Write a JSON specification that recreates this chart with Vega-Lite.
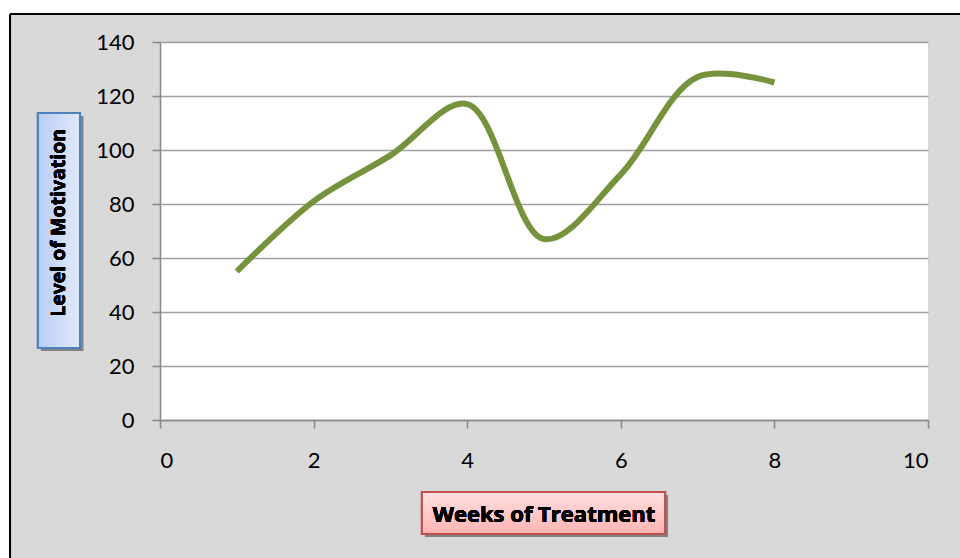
{
  "$schema": "https://vega.github.io/schema/vega-lite/v6.json",
  "autosize": {"type": "none"},
  "width": 768,
  "height": 378,
  "padding": {"left": 160, "top": 42, "right": 32, "bottom": 138},
  "background": "#d9d9d9",
  "config": {
    "view": {"stroke": null, "fill": "white"},
    "font": "Lato"
  },
  "data": {
    "values": [
      {"week": 1, "motivation": 55},
      {"week": 2, "motivation": 81},
      {"week": 3, "motivation": 98},
      {"week": 4, "motivation": 117},
      {"week": 5, "motivation": 67},
      {"week": 6, "motivation": 91},
      {"week": 7, "motivation": 127},
      {"week": 8, "motivation": 125}
    ]
  },
  "layer": [
    {
      "mark": {"type": "rect", "fill": "white", "stroke": null},
      "encoding": {
        "x": {"datum": -2.3, "type": "quantitative", "scale": {"domain": [0, 10], "nice": false}, "axis": {"values": [0, 2, 4, 6, 8, 10], "format": "d", "title": null, "grid": false, "domainColor": "#878787", "domainWidth": 1.5, "tickColor": "#878787", "tickWidth": 1.5, "tickSize": 8, "labelPadding": 22, "labelFontSize": 22, "labelColor": "black", "labelFont": "Lato"}},
        "x2": {"datum": -1.953},
        "y": {"datum": -60, "type": "quantitative", "scale": {"domain": [0, 140], "nice": false}, "axis": {"values": [0, 20, 40, 60, 80, 100, 120, 140], "format": "d", "title": null, "grid": true, "gridColor": "#a0a0a0", "gridWidth": 1.5, "domainColor": "#878787", "domainWidth": 1.5, "tickColor": "#878787", "tickWidth": 1.5, "tickSize": 8, "labelPadding": 18, "labelFontSize": 22, "labelColor": "black", "labelFont": "Lato"}},
        "y2": {"datum": 170}
      }
    },
    {
      "mark": {"type": "rect", "fill": "white", "stroke": null},
      "encoding": {
        "x": {"datum": -2.3, "type": "quantitative"},
        "x2": {"datum": 11},
        "y": {"datum": 150.37, "type": "quantitative"},
        "y2": {"datum": 170}
      }
    },
    {
      "mark": {"type": "rule", "color": "black", "strokeWidth": 2},
      "encoding": {
        "x": {"datum": -1.953, "type": "quantitative"},
        "y": {"datum": -60, "type": "quantitative"},
        "y2": {"datum": 150.37}
      }
    },
    {
      "mark": {"type": "rule", "color": "black", "strokeWidth": 2},
      "encoding": {
        "x": {"datum": -1.953, "type": "quantitative"},
        "x2": {"datum": 11},
        "y": {"datum": 150.37, "type": "quantitative"}
      }
    },
    {
      "mark": {"type": "rect", "fill": "#7f7f7f", "opacity": 0.3, "stroke": null},
      "encoding": {
        "x": {"datum": -1.55, "type": "quantitative"},
        "x2": {"datum": -1.0},
        "y": {"datum": 112.6, "type": "quantitative"},
        "y2": {"datum": 25.6}
      }
    },
    {
      "mark": {"type": "rect", "stroke": "#4f81bd", "strokeWidth": 2, "fill": {"gradient": "linear", "x1": 0, "y1": 0, "x2": 1, "y2": 0, "stops": [{"offset": 0, "color": "#b9cdf4"}, {"offset": 1, "color": "#e1eafb"}]}},
      "encoding": {
        "x": {"datum": -1.589, "type": "quantitative"},
        "x2": {"datum": -1.042},
        "y": {"datum": 113.7, "type": "quantitative"},
        "y2": {"datum": 26.7}
      }
    },
    {
      "mark": {"type": "text", "text": "Level of Motivation", "angle": 270, "align": "center", "baseline": "middle", "fontWeight": "bold", "fontSize": 19.5, "font": "Open Sans", "color": "black"},
      "encoding": {
        "x": {"datum": -1.315, "type": "quantitative"},
        "y": {"datum": 73, "type": "quantitative"}
      }
    },
    {
      "mark": {"type": "rect", "fill": "#7f7f7f", "opacity": 0.3, "stroke": null},
      "encoding": {
        "x": {"datum": 3.45, "type": "quantitative"},
        "x2": {"datum": 6.615},
        "y": {"datum": -27.8, "type": "quantitative"},
        "y2": {"datum": -43.3}
      }
    },
    {
      "mark": {"type": "rect", "stroke": "#c0504d", "strokeWidth": 2, "fill": {"gradient": "linear", "x1": 0, "y1": 0, "x2": 0, "y2": 1, "stops": [{"offset": 0, "color": "#ffe0e0"}, {"offset": 1, "color": "#ffb3b3"}]}},
      "encoding": {
        "x": {"datum": 3.411, "type": "quantitative"},
        "x2": {"datum": 6.576},
        "y": {"datum": -26.67, "type": "quantitative"},
        "y2": {"datum": -42.2}
      }
    },
    {
      "mark": {"type": "text", "text": "Weeks of Treatment", "align": "center", "baseline": "middle", "fontWeight": "bold", "fontSize": 22, "font": "Open Sans", "color": "black"},
      "encoding": {
        "x": {"datum": 5.0, "type": "quantitative"},
        "y": {"datum": -35, "type": "quantitative"}
      }
    },
    {
      "mark": {"type": "line", "interpolate": "catmull-rom", "color": "#76923c", "strokeWidth": 6},
      "encoding": {
        "x": {"field": "week", "type": "quantitative"},
        "y": {"field": "motivation", "type": "quantitative"}
      }
    }
  ]
}
